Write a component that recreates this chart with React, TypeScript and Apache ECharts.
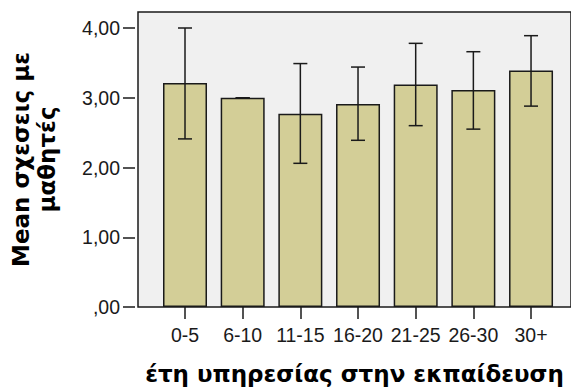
import React, { useEffect, useRef } from "react";
import * as echarts from "echarts";

const categories = ["0-5", "6-10", "11-15", "16-20", "21-25", "26-30", "30+"];
const means = [3.21, 3.0, 2.77, 2.91, 3.19, 3.11, 3.39];
const lower = [2.41, 3.0, 2.06, 2.39, 2.6, 2.55, 2.88];
const upper = [4.0, 3.0, 3.49, 3.44, 3.78, 3.66, 3.89];
const yTicks = [0, 1, 2, 3, 4];

const xTitle = "έτη υπηρεσίας στην εκπαίδευση";
const yTitle = "Mean σχεσεις με\nμαθητές";

const fmt = (v: number) => {
  const s = v.toFixed(2).replace(".", ",");
  return v === 0 ? s.replace(/^0/, "") : s;
};

export default function App() {
  const ref = useRef<HTMLDivElement>(null);
  useEffect(() => {
    if (!ref.current) return;
    const chart = echarts.init(ref.current, undefined, { renderer: "svg" });
    const errData = categories.map((c, i) => [i, lower[i], upper[i]]);
    const lineStyle = { stroke: "#1a1a1a", lineWidth: 1.5 };
    chart.setOption({
      animation: false,
      grid: [
        {
          left: 135,
          right: -10,
          top: 12,
          bottom: 85,
          show: true,
          backgroundColor: "#f0f0f0",
          borderColor: "#1a1a1a",
          borderWidth: 1.5,
        },
        { left: 156.17, right: 11.13, top: 28, bottom: 85 },
      ],
      xAxis: [
        {
          gridIndex: 0,
          type: "value",
          min: 0,
          max: 1,
          axisLine: { show: false },
          axisTick: { show: false },
          axisLabel: { show: false },
          splitLine: { show: false },
          name: xTitle,
          nameLocation: "middle",
          nameGap: 55,
          nameTextStyle: {
            fontFamily: "DejaVu Sans",
            fontWeight: "bold",
            fontSize: 23,
            color: "#000",
          },
        },
        {
          gridIndex: 1,
          type: "category",
          data: categories,
          axisLine: { show: false },
          axisTick: {
            show: true,
            alignWithLabel: true,
            length: 12,
            lineStyle: { color: "#1a1a1a", width: 1.5 },
          },
          axisLabel: {
            margin: 18,
            fontSize: 19.5,
            fontFamily: "Liberation Sans",
            color: "#1a1a1a",
            interval: 0,
          },
          splitLine: { show: false },
        },
      ],
      yAxis: [
        {
          gridIndex: 0,
          type: "value",
          min: 0,
          max: 1,
          axisLine: { show: false },
          axisTick: { show: false },
          axisLabel: { show: false },
          splitLine: { show: false },
          name: yTitle,
          nameLocation: "middle",
          nameRotate: 90,
          nameGap: 78,
          nameTextStyle: {
            fontFamily: "DejaVu Sans",
            fontWeight: "bold",
            fontSize: 23,
            lineHeight: 26,
            color: "#000",
            align: "center",
          },
        },
        {
          gridIndex: 1,
          type: "value",
          min: yTicks[0],
          max: yTicks[yTicks.length - 1],
          interval: 1,
          offset: 21.17,
          axisLine: { show: false },
          axisTick: {
            show: true,
            length: 12,
            lineStyle: { color: "#1a1a1a", width: 1.5 },
          },
          axisLabel: {
            margin: 15,
            fontSize: 19.5,
            fontFamily: "Liberation Sans",
            color: "#1a1a1a",
            formatter: (v: number) => fmt(v),
          },
          splitLine: { show: false },
        },
      ],
      series: [
        {
          type: "bar",
          xAxisIndex: 1,
          yAxisIndex: 1,
          data: means,
          barWidth: 44,
          itemStyle: {
            color: "#d3ce97",
            borderColor: "#1a1a1a",
            borderWidth: 1.5,
          },
        },
        {
          type: "custom",
          xAxisIndex: 1,
          yAxisIndex: 1,
          data: errData,
          encode: { x: 0, y: [1, 2] },
          z: 5,
          renderItem: (params: any, api: any) => {
            const lo = api.coord([api.value(0), api.value(1)]);
            const hi = api.coord([api.value(0), api.value(2)]);
            const hw = 7;
            return {
              type: "group",
              children: [
                {
                  type: "line",
                  shape: { x1: hi[0], y1: hi[1], x2: lo[0], y2: lo[1] },
                  style: lineStyle,
                },
                {
                  type: "line",
                  shape: { x1: hi[0] - hw, y1: hi[1], x2: hi[0] + hw, y2: hi[1] },
                  style: lineStyle,
                },
                {
                  type: "line",
                  shape: { x1: lo[0] - hw, y1: lo[1], x2: lo[0] + hw, y2: lo[1] },
                  style: lineStyle,
                },
              ],
            };
          },
        },
      ],
    });
    return () => chart.dispose();
  }, []);
  return (
    <div
      ref={ref}
      style={{ position: "fixed", left: 0, top: 0, width: 571, height: 392, background: "#fff" }}
    />
  );
}
